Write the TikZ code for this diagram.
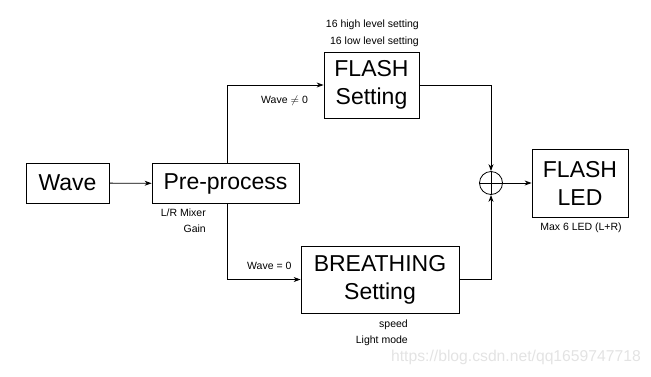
\documentclass[tikz,border=0pt]{standalone}
\usepackage{fontspec}
\setmainfont{Liberation Sans}
\usetikzlibrary{arrows.meta}
\begin{document}
\begin{tikzpicture}[x=1pt,y=1pt,
  box/.style={draw, line width=0.8pt, inner sep=0pt, align=center, font=\fontsize{23}{28}\selectfont},
  arr/.style={line width=0.8pt, -{Stealth[length=7pt,width=5pt]}},
  lbl/.style={inner sep=0pt, font=\fontsize{10.5}{12}\selectfont}]
\useasboundingbox (0,0) rectangle (651,-376);
\node[box, minimum width=83pt, minimum height=40pt] (wave) at (67.5,-183) {Wave};
\node[box, minimum width=147pt, minimum height=40pt] (pre) at (225.5,-183.5) {Pre-process};
\node[box, minimum width=95pt, minimum height=66pt] (flash) at (371.5,-85) {FLASH\\Setting};
\node[box, minimum width=158pt, minimum height=67pt] (breath) at (380,-279.5) {BREATHING\\Setting};
\node[draw, line width=0.8pt, circle, minimum size=23pt, inner sep=0pt] (sum) at (491,-183) {};
\node[box, minimum width=96pt, minimum height=68pt] (led) at (580,-183) {FLASH\\LED};
\draw[line width=0.8pt] (sum.north) -- (sum.south) (sum.west) -- (sum.east);
\coordinate (bx) at (227,0);
\draw[arr] (wave) -- (pre);
\draw[arr] (pre.north -| bx) |- (flash.west);
\draw[arr] (pre.south -| bx) |- (breath.west);
\draw[arr] (flash.east) -| (sum.north);
\draw[arr] (breath.east) -| (sum.south);
\draw[arr] (sum) -- (led);
\node[lbl, anchor=east] (t1) at (419,-25) {16 high level setting};
\node[lbl, anchor=east] (t2) at (419,-42) {16 low level setting};
\node[lbl, anchor=west] (t3) at (261,-101) {Wave $\neq$ 0};
\node[lbl, anchor=west] (t4) at (247,-266) {Wave = 0};
\node[lbl, anchor=east] (t5) at (206,-213) {L/R Mixer};
\node[lbl, anchor=east] (t6) at (206,-229) {Gain};
\node[lbl, anchor=east] (t7) at (408,-325) {speed};
\node[lbl, anchor=east] (t8) at (408,-341) {Light mode};
\node[lbl] (t9) at (581,-228) {Max 6 LED (L+R)};
\node[inner sep=0pt, anchor=east, text=gray!22, font=\fontsize{15.7}{18}\selectfont] (wm) at (641,-357) {https://blog.csdn.net/qq1659747718};
\end{tikzpicture}
\end{document}
